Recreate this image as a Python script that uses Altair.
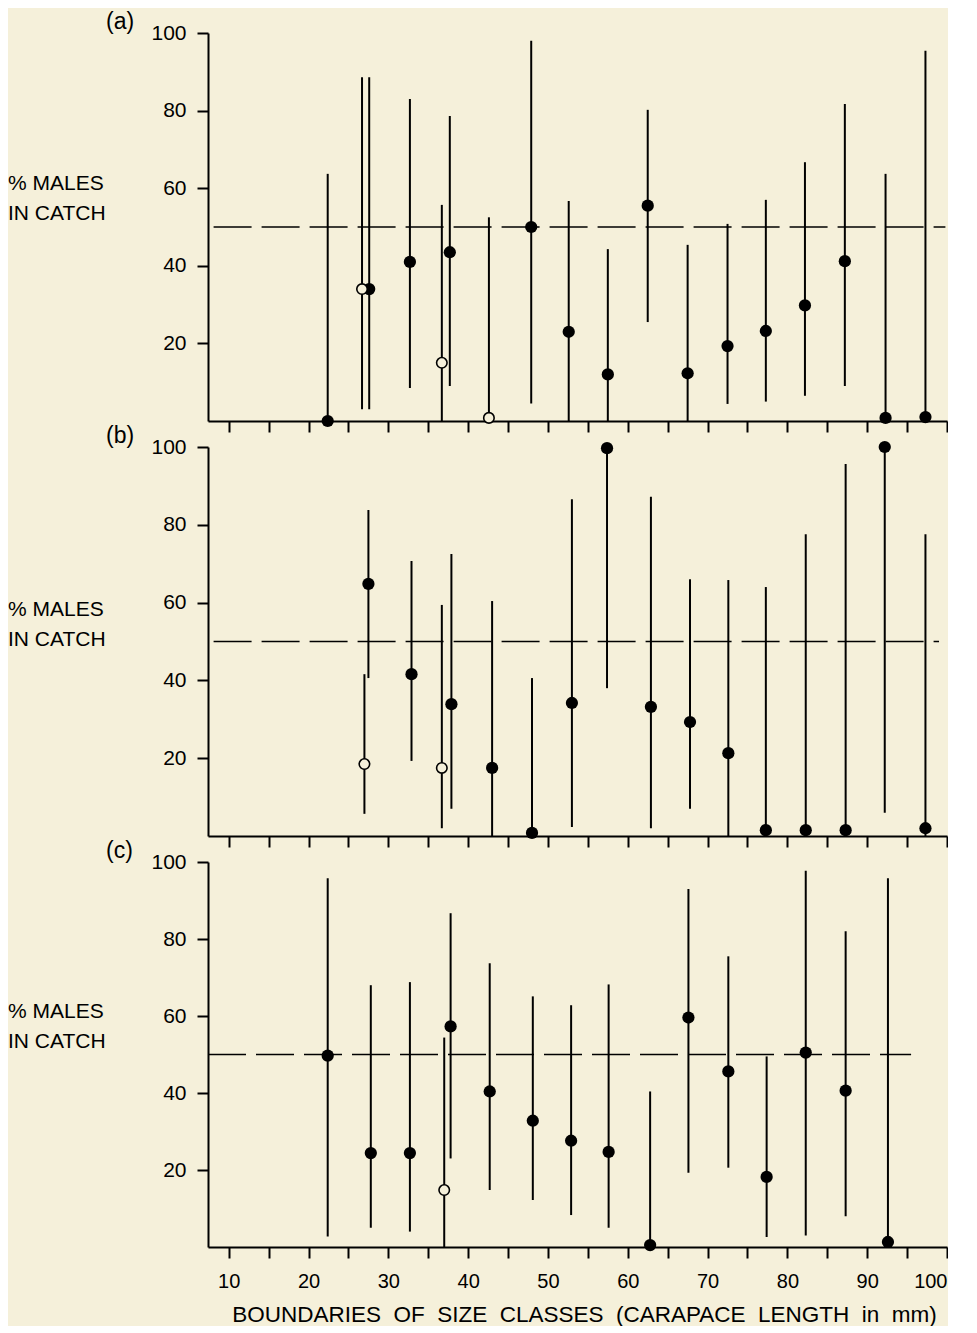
import altair as alt
import pandas as pd

BG = "#f5f0da"
FONT = "Liberation Sans"

panel_labels = ["(a)", "(b)", "(c)"]
y_title = "% MALES\nIN CATCH"
x_title_words = ["BOUNDARIES", "OF", "SIZE", "CLASSES", "(CARAPACE", "LENGTH", "in", "mm)"]
x_title = " \u00a0".join(x_title_words)
x_tick_values = list(range(10, 101, 5))
y_tick_values = [20, 40, 60, 80, 100]
ref_line = [50]

# Panel (a)
a_x = [22.4, 26.7, 27.6, 32.7, 36.7, 37.7, 42.6, 47.9, 52.6, 57.5, 62.5, 67.5, 72.5, 77.3, 82.2, 87.2, 92.3, 97.3]
a_pct = [0, 34, 34, 41, 15, 43.5, 0.8, 50, 23, 12, 55.5, 12.3, 19.3, 23.2, 29.8, 41.2, 0.8, 1]
a_lo = [0, 3, 3, 8.5, 0, 9, 0, 4.5, 0, 0, 25.5, 0, 4.4, 5, 6.5, 9, 0, 0]
a_hi = [63.7, 88.6, 88.6, 83, 55.7, 78.6, 52.5, 98, 56.7, 44.3, 80.2, 45.4, 50.8, 57, 66.7, 81.7, 63.7, 95.4]
a_open = [0, 1, 0, 0, 1, 0, 1, 0, 0, 0, 0, 0, 0, 0, 0, 0, 0, 0]

# Panel (b)
b_x = [27.0, 27.5, 32.9, 36.7, 37.9, 43.0, 48.0, 53.0, 57.4, 62.9, 67.8, 72.6, 77.3, 82.3, 87.3, 92.2, 97.3]
b_pct = [18.5, 64.8, 41.6, 17.5, 33.9, 17.5, 0.8, 34.2, 99.7, 33.2, 29.3, 21.3, 1.5, 1.5, 1.5, 100, 2]
b_lo = [5.7, 40.6, 19.3, 2, 7, 0, 0, 2.3, 38, 2, 7, 0, 0, 0, 0, 6, 0]
b_hi = [41.6, 83.8, 70.7, 59.4, 72.5, 60.4, 40.6, 86.6, 100, 87.2, 66, 65.8, 64, 77.6, 95.6, 100, 77.6]
b_open = [1, 0, 0, 1, 0, 0, 0, 0, 0, 0, 0, 0, 0, 0, 0, 0, 0]

# Panel (c)
c_x = [22.4, 27.8, 32.7, 37.0, 37.8, 42.7, 48.1, 52.9, 57.6, 62.8, 67.6, 72.6, 77.4, 82.3, 87.3, 92.6]
c_pct = [49.7, 24.4, 24.4, 14.8, 57.3, 40.4, 32.8, 27.6, 24.7, 0.5, 59.6, 45.6, 18.2, 50.5, 40.6, 1.3]
c_lo = [2.7, 5, 4, 0, 23, 14.8, 12.2, 8.3, 5, 0, 19.3, 20.6, 2.6, 3, 8, 0]
c_hi = [95.8, 68, 68.8, 54.4, 86.7, 73.7, 65.1, 62.8, 68.2, 40.4, 93, 75.5, 49.5, 97.7, 82, 95.8]
c_open = [0, 0, 0, 1, 0, 0, 0, 0, 0, 0, 0, 0, 0, 0, 0, 0]

# extent of the dashed 50% line in each panel
dash_start = [8.1, 8.1, 7.4]
dash_end = [99.8, 99.0, 95.5]

W = 739


def panel(xs, pct, lo, hi, opn, label, d0, d1, height, title_y, bottom):
    df = pd.DataFrame({"x": xs, "pct": pct, "lo": lo, "hi": hi, "open": opn})
    xscale = alt.Scale(domain=[7.4, 100], nice=False, zero=False)
    yscale = alt.Scale(domain=[0, 100], nice=False)
    if bottom:
        xaxis = alt.Axis(values=x_tick_values, title=x_title, grid=False,
                         labelExpr="datum.value % 10 === 0 ? datum.label : ''",
                         labelFontSize=20, labelPadding=13, tickSize=11,
                         titleFontSize=22.5, titleFontWeight="normal", titlePadding=12,
                         titleX=376)
    else:
        xaxis = alt.Axis(values=x_tick_values, title=None, grid=False, labels=False, tickSize=11)
    yaxis = alt.Axis(values=y_tick_values, title=None, grid=False, labelFontSize=21,
                     tickSize=11, labelPadding=11)

    base = alt.Chart(df)
    bars = base.mark_rule(color="black", strokeWidth=2).encode(
        x=alt.X("x:Q", scale=xscale, axis=xaxis),
        y=alt.Y("lo:Q", scale=yscale, axis=yaxis),
        y2="hi:Q",
    )
    filled = base.transform_filter("datum.open == 0").mark_point(
        shape="circle", filled=True, color="black", opacity=1, size=150
    ).encode(x="x:Q", y="pct:Q")
    hollow = base.transform_filter("datum.open == 1").mark_point(
        shape="circle", fill=BG, fillOpacity=1, stroke="black", strokeWidth=1.6,
        opacity=1, size=110
    ).encode(x="x:Q", y="pct:Q")

    dash_df = pd.DataFrame({"x0": [d0], "x1": [d1], "y": ref_line})
    dash = alt.Chart(dash_df).mark_rule(color="black", strokeWidth=1.5, strokeDash=[38, 10]).encode(
        x="x0:Q", x2="x1:Q", y="y:Q"
    )

    lab = alt.Chart(pd.DataFrame({"t": [label]})).mark_text(
        align="left", baseline="middle", fontSize=23, font=FONT, color="black"
    ).encode(text="t:N", x=alt.value(-102), y=alt.value(-11))

    ytl = alt.Chart(pd.DataFrame({"t": [y_title]})).mark_text(
        align="left", baseline="middle", fontSize=21, font=FONT, color="black",
        lineBreak="\n", lineHeight=30
    ).encode(text="t:N", x=alt.value(-200), y=alt.value(title_y))

    return alt.layer(dash, bars, filled, hollow, lab, ytl).properties(width=W, height=height)


pa = panel(a_x, a_pct, a_lo, a_hi, a_open, panel_labels[0], dash_start[0], dash_end[0], 388, 151, False)
pb = panel(b_x, b_pct, b_lo, b_hi, b_open, panel_labels[1], dash_start[1], dash_end[1], 389, 163, False)
pc = panel(c_x, c_pct, c_lo, c_hi, c_open, panel_labels[2], dash_start[2], dash_end[2], 385, 150, True)

chart = alt.vconcat(pa, pb, pc, spacing=26, bounds="flush").properties(
    padding={"left": 0, "top": 3, "right": 0, "bottom": 0},
    background=BG,
).configure_view(stroke=None).configure_axis(
    domainColor="black", domainWidth=2, tickColor="black", tickWidth=2,
    labelColor="black", titleColor="black", labelFont=FONT, titleFont=FONT,
)

chart.save("out.html", embed_options={"renderer": "svg", "actions": False})
